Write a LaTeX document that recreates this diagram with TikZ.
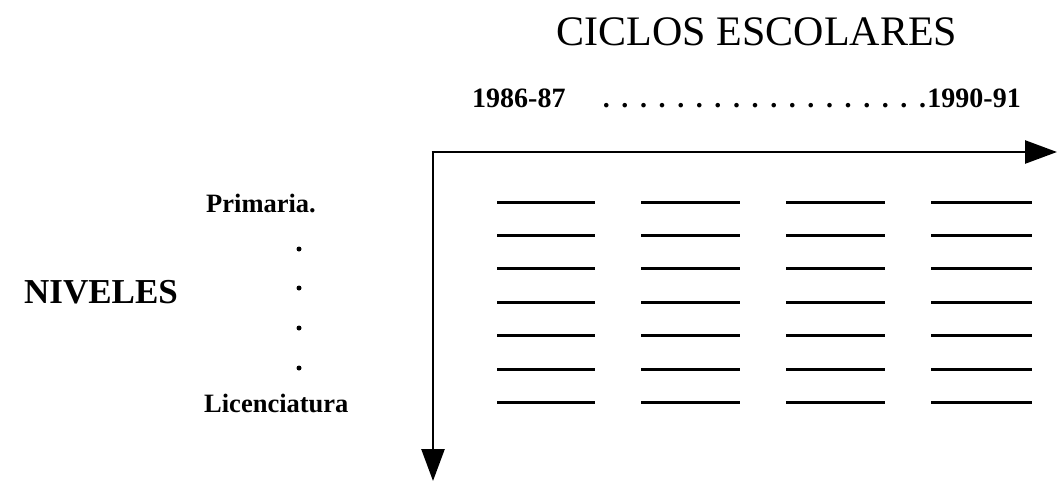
\documentclass[tikz,border=0pt]{standalone}
\usepackage{fontspec}
\setmainfont{Liberation Serif}
\usetikzlibrary{positioning}
\usetikzlibrary{arrows.meta}
\tikzset{x=1pt, y=-1pt, % one unit per pixel of the page, y going down
axis/.style={ % Sets the properties for both axes
draw,
line width=2.6pt,
-{Triangle[length=32pt, width=23pt]}},
rowline/.style={ % Sets the properties for the short blank lines
draw,
line width=3pt},
caption/.style={ % Bold captions of the axes
inner sep=0pt,
font=\bfseries\fontsize{28}{32}\selectfont},
levelname/.style={ % First and last level
caption,
anchor=base west,
font=\bfseries\fontsize{26.5}{30}\selectfont},
levelmark/.style={ % Dots between the first and last level
circle,
fill,
inner sep=0pt,
minimum size=5pt}}

\begin{document}
\begin{tikzpicture}
    \useasboundingbox (0,0) rectangle (1057,482);
    \node[inner sep=0pt, anchor=base, font=\fontsize{42}{46}\selectfont] (title) at (757,45) {CICLOS ESCOLARES};
    \node[caption, anchor=base west] (cfirst) at (472,107) {1986-87};
    \node[caption, anchor=base east] (clast) at (1021,107) {1990-91};
    \node[caption, anchor=base east] (cdots) at ([xshift=5pt]clast.base west)
      {\hbox to 335pt{\leaders\hbox to 18.6pt{\hss.\hss}\hfill}};
    \node[caption, font=\bfseries\fontsize{35}{38}\selectfont, anchor=base west] (niveles) at (24,303) {NIVELES};
    \node[levelname] (prim) at (206,212) {Primaria.};
    \node[levelname] (lic) at (204,412) {Licenciatura};
    \foreach \y [count=\i] in {249,288,328,368}
      \node[levelmark] (mark\i) at (299,\y) {};
    \coordinate (origin) at (433,152);
    \coordinate (xend) at (1057,152);
    \coordinate (yend) at (433,481);
    \draw[axis] ([xshift=-1.3pt]origin) -- (xend);
    \draw[axis] (origin) -- (yend);
    \foreach \a/\b in {497/595, 641/740, 786/885, 931/1032}
      \foreach \r in {0,...,6}
        \draw[rowline] (\a,202+33.4*\r) -- (\b,202+33.4*\r);
  \end{tikzpicture}
\end{document}
